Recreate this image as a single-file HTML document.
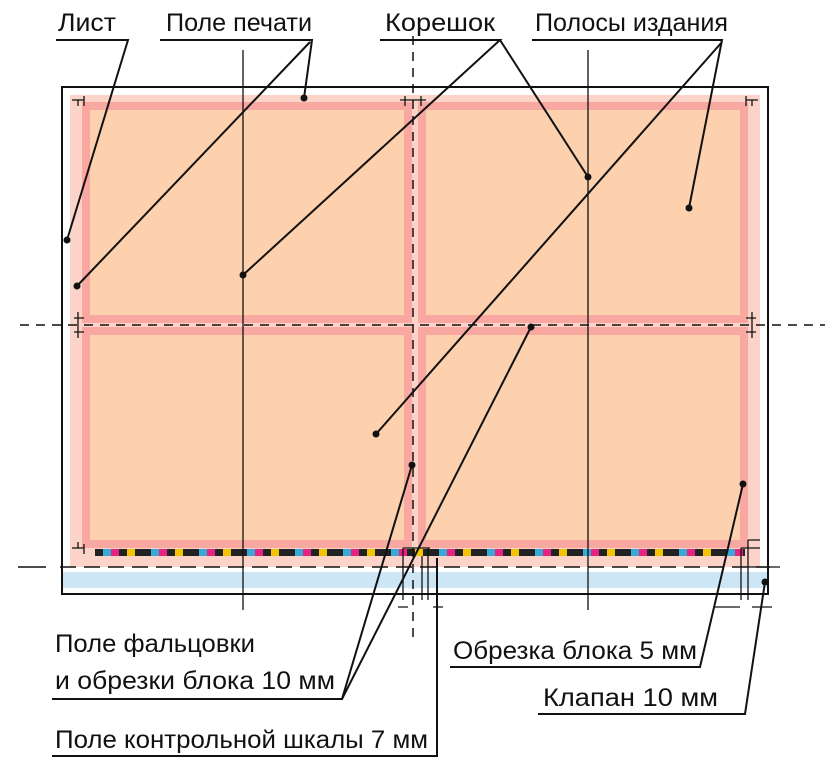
<!DOCTYPE html>
<html><head><meta charset="utf-8"><style>
html,body{margin:0;padding:0;background:#fff}
svg{display:block}
text{font-family:"Liberation Sans",sans-serif;font-size:25px;fill:#111}
</style></head><body>
<svg width="829" height="768" viewBox="0 0 829 768" xmlns="http://www.w3.org/2000/svg">
<rect x="62" y="87" width="706" height="507" fill="#fff" stroke="#111" stroke-width="2"/>
<rect x="70" y="95" width="690" height="472" fill="#fcd3c8"/>
<rect x="63" y="572" width="704" height="16" fill="#cde6f5"/>
<g fill="#fdd0ae" stroke="#f8a8a0" stroke-width="8">
<rect x="86" y="106" width="322" height="213"/>
<rect x="422" y="106" width="322" height="213"/>
<rect x="86" y="331" width="322" height="213"/>
<rect x="422" y="331" width="322" height="213"/>
</g>
<defs><pattern id="cb" x="95" y="549" width="48" height="7" patternUnits="userSpaceOnUse">
<rect x="0" width="8" height="7" fill="#222"/><rect x="8" width="8" height="7" fill="#39a7d8"/><rect x="16" width="8" height="7" fill="#e8237f"/><rect x="24" width="8" height="7" fill="#222"/><rect x="32" width="8" height="7" fill="#f5c400"/><rect x="40" width="8" height="7" fill="#222"/>
</pattern></defs>
<rect x="95" y="549" width="650" height="7" fill="url(#cb)"/>
<g stroke="#111" stroke-width="1.5" stroke-dasharray="9,7" fill="none">
<line x1="413" y1="20" x2="413" y2="640"/>
<line x1="20" y1="325" x2="825" y2="325"/>
<line x1="60" y1="567" x2="770" y2="567" stroke-dasharray="16,8"/>
</g>
<line x1="18" y1="567" x2="46" y2="567" stroke="#111" stroke-width="1.5"/>
<g stroke="#111" stroke-width="1.3">
<line x1="243" y1="50" x2="243" y2="610"/>
<line x1="588" y1="50" x2="588" y2="610"/>
<path d="M72 100 H84 M84 96 V106 M78 100 V106" fill="none"/>
<path d="M758 100 H746 M746 96 V106 M752 100 V106" fill="none"/>
<path d="M72 548 H84 M84 554 V544 M78 548 V542" fill="none"/>
<path d="M400 100 H426 M405 96 V106 M421 96 V106" fill="none"/>
<path d="M78 312 V338 M74 318 H84 M74 332 H84" fill="none"/>
<path d="M752 312 V338 M746 318 H756 M746 332 H756" fill="none"/>
<path d="M403 548 V600 M428 548 V600 M403 548 H430 M398 607 H408 M433 607 H443 M422 556 V600" fill="none"/>
<path d="M741 548 V600 M748 540 V600 M748 540 H760 M741 548 H760 M715 607 H740 M752 607 H772 M748 567 H780" fill="none"/>
</g>
<g stroke="#111" stroke-width="2" fill="none">
<polyline points="56,40 128,40 67,240"/>
<polyline points="160,40 312,40 304,98"/>
<line x1="310" y1="42" x2="77" y2="286"/>
<polyline points="380,40 500,40 243,275"/>
<line x1="500" y1="40" x2="588" y2="177"/>
<polyline points="532,40 722,40 689,208"/>
<line x1="722" y1="42" x2="376" y2="434"/>
<polyline points="52,699 342,699 412,465"/>
<line x1="342" y1="699" x2="531" y2="327"/>
<polyline points="52,756 437,756 437,558"/>
<polyline points="450,667 700,667 743,484"/>
<polyline points="538,714 745,714 765,582"/>
</g>
<g fill="#111">
<circle cx="67" cy="240" r="3.5"/><circle cx="304" cy="98" r="3.5"/><circle cx="77" cy="286" r="3.5"/>
<circle cx="243" cy="275" r="3.5"/><circle cx="588" cy="177" r="3.5"/><circle cx="689" cy="208" r="3.5"/>
<circle cx="376" cy="434" r="3.5"/><circle cx="412" cy="465" r="3.5"/><circle cx="531" cy="327" r="3.5"/>
<circle cx="743" cy="484" r="3.5"/><circle cx="765" cy="582" r="3.5"/>
</g>
<text x="58" y="31" textLength="58" lengthAdjust="spacingAndGlyphs">Лист</text>
<text x="166" y="31" textLength="146" lengthAdjust="spacingAndGlyphs">Поле печати</text>
<text x="385" y="31" textLength="110" lengthAdjust="spacingAndGlyphs">Корешок</text>
<text x="535" y="31" textLength="193" lengthAdjust="spacingAndGlyphs">Полосы издания</text>
<text x="55" y="652" textLength="200" lengthAdjust="spacingAndGlyphs">Поле фальцовки</text>
<text x="55" y="689" textLength="280" lengthAdjust="spacingAndGlyphs">и обрезки блока 10 мм</text>
<text x="55" y="748" textLength="373" lengthAdjust="spacingAndGlyphs">Поле контрольной шкалы 7 мм</text>
<text x="453" y="659" textLength="244" lengthAdjust="spacingAndGlyphs">Обрезка блока 5 мм</text>
<text x="543" y="706" textLength="175" lengthAdjust="spacingAndGlyphs">Клапан 10 мм</text>
</svg>
</body></html>
